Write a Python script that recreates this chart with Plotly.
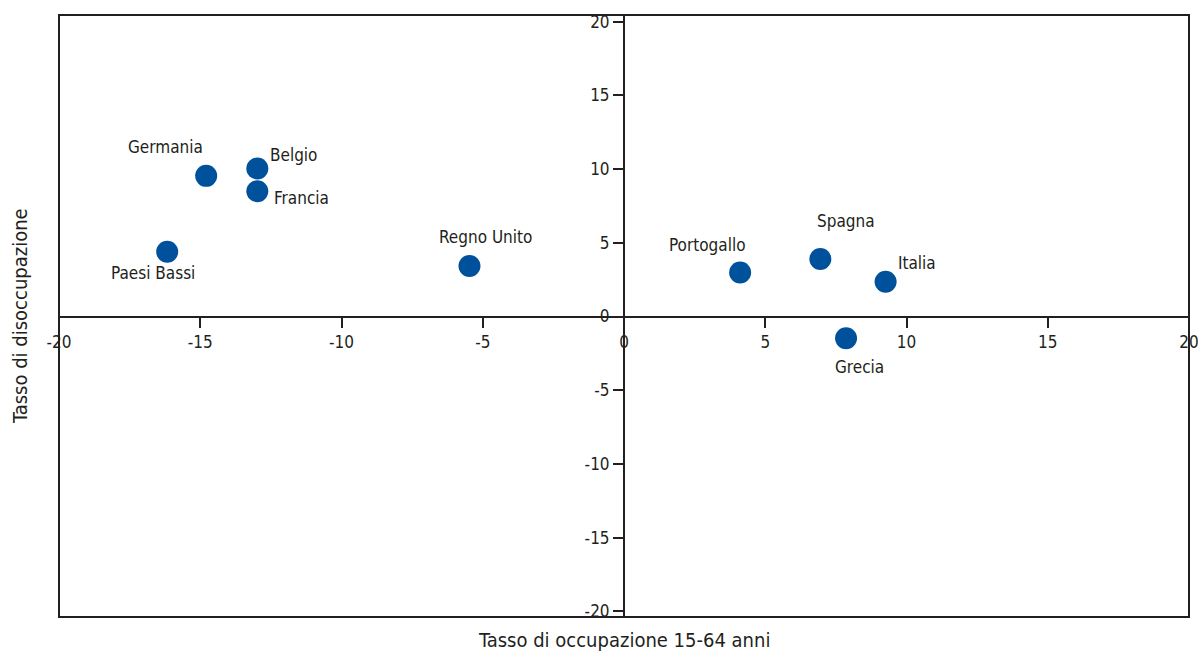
import plotly.graph_objects as go

countries = ["Germania", "Belgio", "Francia", "Paesi Bassi", "Regno Unito",
             "Portogallo", "Spagna", "Italia", "Grecia"]
occupazione = [-14.79, -12.98, -12.98, -16.17, -5.47, 4.11, 6.95, 9.26, 7.86]
disoccupazione = [9.54, 10.04, 8.50, 4.39, 3.42, 2.99, 3.90, 2.36, -1.48]
tick_vals = [-20, -15, -10, -5, 0, 5, 10, 15, 20]
tick_text = ["-20", "-15", "-10", "-5", "0", "5", "10", "15", "20"]

# label offsets in pixels (style)
label_shift = {
    "Germania": (-41, 29), "Belgio": (36, 13), "Francia": (44, -7),
    "Paesi Bassi": (-14, -21), "Regno Unito": (16, 29), "Portogallo": (-33, 27),
    "Spagna": (26, 38), "Italia": (31, 19), "Grecia": (13, -29),
}

FONT = "DejaVu Sans Condensed, Liberation Sans, sans-serif"
INK = "#231f20"
BLUE = "#00519c"

xr = [-20, 20]
yr = [-20.38, 20.45]
ypos_frac = (0 - yr[0]) / (yr[1] - yr[0])
xpos_frac = (0 - xr[0]) / (xr[1] - xr[0])

fig = go.Figure()
fig.add_trace(go.Scatter(
    x=occupazione, y=disoccupazione, mode="markers",
    marker=dict(size=22, color=BLUE, line=dict(width=0)),
    hovertext=countries, showlegend=False,
))

for name, xv, yv in zip(countries, occupazione, disoccupazione):
    dx, dy = label_shift[name]
    fig.add_annotation(x=xv, y=yv, xref="x", yref="y", text=name, showarrow=False,
                       xshift=dx, yshift=dy, font=dict(family=FONT, size=17, color=INK))

fig.add_shape(type="rect", xref="paper", yref="paper", x0=0, x1=1, y0=0, y1=1,
              line=dict(color=INK, width=2), layer="above")

fig.add_annotation(x=0.5, y=0, xref="paper", yref="paper", yshift=-23, yanchor="middle",
                   text="Tasso di occupazione 15-64 anni", showarrow=False,
                   font=dict(family=FONT, size=20, color=INK))
fig.add_annotation(x=0, y=0.5, xref="paper", yref="paper", xshift=-39, xanchor="center",
                   text="Tasso di disoccupazione", textangle=-90, showarrow=False,
                   font=dict(family=FONT, size=20, color=INK))

fig.update_layout(
    width=1198, height=652,
    margin=dict(l=59, r=9, t=15, b=35, autoexpand=False),
    plot_bgcolor="white", paper_bgcolor="white",
    font=dict(family=FONT, size=17, color=INK),
    xaxis=dict(range=xr, tickvals=tick_vals, ticktext=tick_text, showgrid=False,
               zeroline=False, showline=True, linecolor=INK, linewidth=2,
               anchor="free", position=ypos_frac, ticks="outside", ticklen=10,
               tickcolor=INK, tickwidth=2, automargin=False, ticklabeloverflow="allow",
               tickfont=dict(family=FONT, size=17, color=INK)),
    yaxis=dict(range=yr, tickvals=tick_vals, ticktext=tick_text, showgrid=False,
               zeroline=False, showline=True, linecolor=INK, linewidth=2,
               anchor="free", position=xpos_frac, ticks="outside", ticklen=10,
               tickcolor=INK, tickwidth=2, automargin=False, ticklabeloverflow="allow",
               tickfont=dict(family=FONT, size=17, color=INK)),
)

fig.write_html("out.html", config={"displayModeBar": False},
               post_script="document.body.style.margin='0px';document.body.style.overflow='hidden';")
